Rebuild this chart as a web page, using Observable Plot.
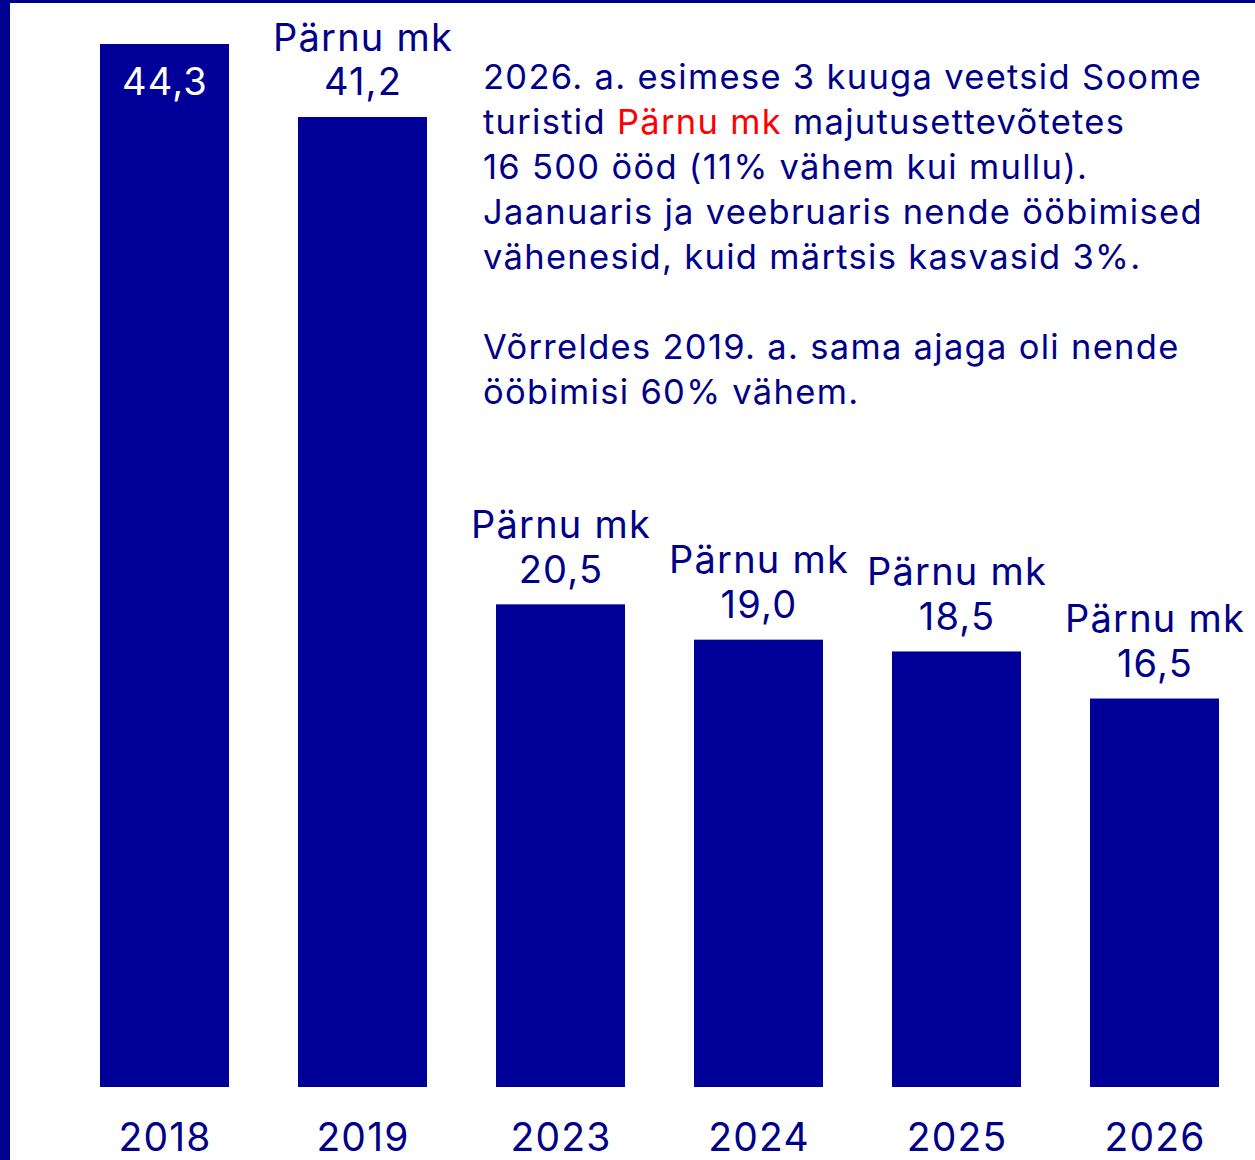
<!DOCTYPE html>
<html>
<head>
<meta charset="utf-8">
<script src="https://cdn.jsdelivr.net/npm/d3@7"></script>
<script src="https://cdn.jsdelivr.net/npm/@observablehq/plot@0.6"></script>
<style>
  html, body { margin: 0; padding: 0; background: #fff; }
  #wrap { position: relative; width: 1255px; height: 1160px; overflow: hidden; font-family: Inter, "Noto Sans", sans-serif; }
  #border { position: absolute; left: 0; top: 0; right: 0; bottom: 0; border-left: 10px solid #000090; border-top: 3px solid #000090; pointer-events: none; }
  #note { position: absolute; left: 483px; top: 54px; font-size: 34.5px; line-height: 45px; color: #000088; white-space: pre; letter-spacing: 1.3px; }
  #note .line { height: 45px; }
  #note .red { color: #ff0000; }
  #chart svg text { letter-spacing: 1.2px; }
</style>
</head>
<body>
<div id="wrap">
  <div id="chart"></div>
  <div id="note"></div>
  <div id="border"></div>
</div>
<script>
const years = ["2018", "2019", "2023", "2024", "2025", "2026"];
const values = [44.3, 41.2, 20.5, 19.0, 18.5, 16.5];
const region = "Pärnu mk";
const noteLines = [
  "2026. a. esimese 3 kuuga veetsid Soome",
  "turistid {R} majutusettevõtetes",
  "16 500 ööd (11% vähem kui mullu).",
  "Jaanuaris ja veebruaris nende ööbimised",
  "vähenesid, kuid märtsis kasvasid 3%.",
  "",
  "Võrreldes 2019. a. sama ajaga oli nende",
  "ööbimisi 60% vähem."
];

const fmt = v => d3.format(".1f")(v).replace(".", ",");
const data = years.map((y, i) => ({year: y, value: values[i], first: i === 0}));

const barColor = "#000099";
const textColor = "#000088";

const chart = Plot.plot({
  width: 1255,
  height: 1160,
  marginLeft: 65,
  marginRight: 2,
  marginTop: 44,
  marginBottom: 73,
  style: {fontFamily: "Inter, 'Noto Sans', sans-serif", background: "transparent", color: textColor},
  x: {domain: years, paddingInner: 0.35, paddingOuter: 0.17, label: null},
  y: {domain: [0, d3.max(values)], axis: null},
  marks: [
    Plot.barY(data, {x: "year", y: "value", fill: barColor}),
    Plot.text(data.filter(d => !d.first), {
      x: "year", y: "value",
      text: d => region + "\n" + fmt(d.value),
      lineAnchor: "bottom", dy: -22, lineHeight: 1.18,
      fontSize: 38, fill: textColor
    }),
    Plot.text(data.filter(d => d.first), {
      x: "year", y: "value",
      text: d => fmt(d.value),
      lineAnchor: "bottom", dy: 50,
      fontSize: 38, fill: "white"
    }),
    Plot.axisX({tickSize: 0, tickPadding: 36, fontSize: 39, color: textColor, label: null})
  ]
});
document.getElementById("chart").appendChild(chart);

const note = document.getElementById("note");
for (const l of noteLines) {
  const div = document.createElement("div");
  div.className = "line";
  const parts = l.split("{R}");
  parts.forEach((p, i) => {
    if (i > 0) {
      const r = document.createElement("span");
      r.className = "red";
      r.textContent = region;
      div.appendChild(r);
    }
    if (p) {
      const s = document.createElement("span");
      s.textContent = p;
      div.appendChild(s);
    }
  });
  note.appendChild(div);
}
</script>
</body>
</html>
